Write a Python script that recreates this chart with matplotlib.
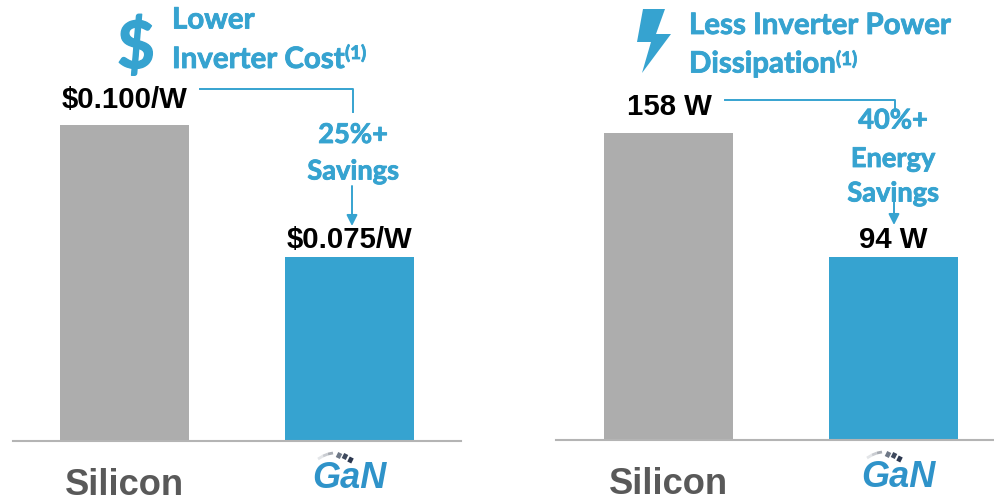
import matplotlib
matplotlib.use("Agg")
import matplotlib.pyplot as plt
from matplotlib.patches import Polygon
import matplotlib.patheffects as pe

# bar values
labels = ["Silicon", "GaN"]
cost = [0.100, 0.075]
power = [158, 94]
cost_text = ["$0.100/W", "$0.075/W"]
power_text = ["158 W", "94 W"]

BLUE = "#36a3d0"
GRAY = "#adadad"
W, H = 994, 502

fig = plt.figure(figsize=(W / 100, H / 100), dpi=100)

def make_axes(x0, x1, ybase, ytop):
    ax = fig.add_axes([x0 / W, 1 - ybase / H, (x1 - x0) / W, (ybase - ytop) / H])
    for s in ["top", "left", "right"]:
        ax.spines[s].set_visible(False)
    ax.spines["bottom"].set_color("#b4b4b4")
    ax.spines["bottom"].set_linewidth(1.5)
    ax.set_yticks([])
    ax.set_xticks([])
    return ax

# left panel, axis does not start at zero in the original
ax1 = make_axes(13, 461, 441.5, 100)
ax1.bar([0, 1], cost, width=0.573, color=[GRAY, BLUE])
ax1.set_xlim(-0.496, 1.495)
ax1.set_ylim(0.0403, 0.0403 + 341.5 / 5280)

# right panel
ax2 = make_axes(556, 1002, 440.5, 100)
ax2.bar([0, 1], power, width=0.573, color=[GRAY, BLUE])
ax2.set_xlim(-0.50, 1.48)
ax2.set_ylim(-0.45, -0.45 + 340.5 / 1.9375)

# overlay in pixel coordinates for the text and callouts
ov = fig.add_axes([0, 0, 1, 1], facecolor="none")
ov.set_xlim(0, W)
ov.set_ylim(H, 0)
ov.axis("off")

thick = [pe.withStroke(linewidth=0.6, foreground=BLUE)]
head = dict(family="Lato", weight="bold", color=BLUE, va="baseline", path_effects=thick)
val = dict(family="Liberation Sans", weight="bold", color="black", va="baseline", ha="center", fontsize=21.2)
note = dict(family="Lato", weight="bold", color=BLUE, va="baseline", ha="center", fontsize=19.6, path_effects=thick)
sil = dict(family="Liberation Sans", weight="bold", color="#595959", va="baseline", ha="center", fontsize=26.2)

# headers
ov.text(172, 29.5, "Lower", fontsize=21.2, **head)
ov.text(172, 69, "Inverter Cost", fontsize=21.2, **head)
ov.text(345, 60, "(1)", fontsize=13.5, **head)
ov.text(689, 35, "Less Inverter Power", fontsize=21.2, **head)
ov.text(689, 73.5, "Dissipation", fontsize=21.2, **head)
ov.text(836, 66, "(1)", fontsize=13.5, **head)

# icons
ov.text(136, 69, "$", fontsize=47, ha="center", family="Lato", weight="bold", color=BLUE, va="baseline",
        path_effects=[pe.withStroke(linewidth=1, foreground=BLUE)])
bolt = [(643, 10), (665, 10), (656, 35), (671, 35), (642, 74), (651, 43), (637, 43)]
ov.add_patch(Polygon(bolt, closed=True, color=BLUE, lw=0))

# bar values
ov.text(125, 108, cost_text[0], **val)
ov.text(349.5, 248.5, cost_text[1], **val)
ov.text(669, 115, power_text[0], **val)
ov.text(893, 248, power_text[1], **val)

# callouts
ov.plot([200, 353, 353], [90, 90, 113], color=BLUE, lw=1.4)
ov.text(353, 144, "25%+", **note)
ov.text(353, 180.5, "Savings", **note)
ov.annotate("", xy=(352, 227), xytext=(352, 187),
            arrowprops=dict(arrowstyle="-|>", color=BLUE, lw=1.4, mutation_scale=16, shrinkA=0, shrinkB=0))

ov.plot([725, 895, 895], [101, 101, 112], color=BLUE, lw=1.4)
ov.text(893, 129.5, "40%+", **note)
ov.text(893, 168, "Energy", **note)
ov.text(893, 202.5, "Savings", **note)
ov.annotate("", xy=(894, 226), xytext=(894, 192),
            arrowprops=dict(arrowstyle="-|>", color=BLUE, lw=1.4, mutation_scale=16, shrinkA=0, shrinkB=0))

# category labels
ov.text(124, 495, labels[0], **sil)
ov.text(668, 494, labels[0], **sil)

# GaN logo, drawn as text plus small dark arc
def gan(cx, base, size):
    ov.text(cx, base, labels[1], fontsize=size, family="Liberation Sans", weight="bold",
            style="italic", color="#2f93c9", ha="center", va="baseline")
    for x0, y0, x1, y1, c in [(-31, -28, -26, -31, "#e3e5e8"), (-26, -31, -21, -33, "#c9ccd1"),
                              (-21, -33, -16, -34, "#a7abb2")]:
        ov.plot([cx + x0, cx + x1], [base + y0, base + y1], color=c, lw=2, solid_capstyle="butt")
    for dx, dy, c in [(-10, -31.5, "#6f7887"), (-4, -30.5, "#3f4a5e"), (1.5, -27, "#2c3850")]:
        ov.plot([cx + dx - 2, cx + dx + 2], [base + dy - 1, base + dy + 1], color=c, lw=4, solid_capstyle="butt")

gan(349, 488, 26)
gan(898, 487, 26)

fig.savefig("out.png", dpi=100)
